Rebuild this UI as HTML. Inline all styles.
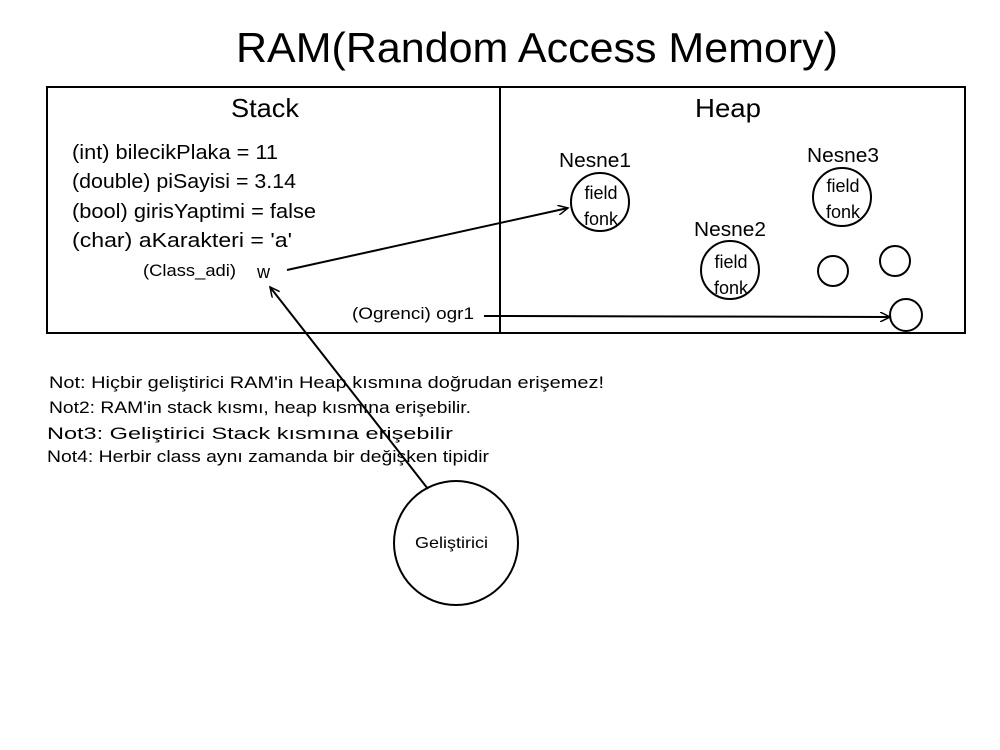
<!DOCTYPE html>
<html><head><meta charset="utf-8"><style>
html,body{margin:0;padding:0;background:#fff;width:1000px;height:750px;overflow:hidden}
svg text{font-family:"Liberation Sans","DejaVu Sans",sans-serif;fill:#000}
</style></head><body>
<svg width="1000" height="750" viewBox="0 0 1000 750" xmlns="http://www.w3.org/2000/svg">
<defs><marker id="a" markerWidth="12" markerHeight="10" refX="10" refY="5" orient="auto" markerUnits="userSpaceOnUse"><path d="M0,0 L10,5 L0,10" fill="none" stroke="#000" stroke-width="1.5"/></marker></defs>
<text x="236" y="62" font-size="42" textLength="602" lengthAdjust="spacingAndGlyphs">RAM(Random Access Memory)</text>
<rect x="47" y="87" width="918" height="246" fill="none" stroke="#000" stroke-width="2"/>
<line x1="500" y1="87" x2="500" y2="333" stroke="#000" stroke-width="2"/>
<text x="231" y="117" font-size="26" textLength="68" lengthAdjust="spacingAndGlyphs">Stack</text>
<text x="695" y="117" font-size="26" textLength="66" lengthAdjust="spacingAndGlyphs">Heap</text>
<g font-size="20">
<text x="72" y="159" textLength="206" lengthAdjust="spacingAndGlyphs">(int) bilecikPlaka = 11</text>
<text x="72" y="188" textLength="224" lengthAdjust="spacingAndGlyphs">(double) piSayisi = 3.14</text>
<text x="72" y="218" textLength="244" lengthAdjust="spacingAndGlyphs">(bool) girisYaptimi = false</text>
<text x="72" y="247" textLength="220" lengthAdjust="spacingAndGlyphs">(char) aKarakteri = 'a'</text>
</g>
<text x="143" y="276" font-size="17" textLength="93" lengthAdjust="spacingAndGlyphs">(Class_adi)</text>
<text x="257" y="278" font-size="18">w</text>
<text x="352" y="319" font-size="17" textLength="122" lengthAdjust="spacingAndGlyphs">(Ogrenci) ogr1</text>
<g font-size="20">
<text x="559" y="167" textLength="72" lengthAdjust="spacingAndGlyphs">Nesne1</text>
<text x="694" y="236" textLength="72" lengthAdjust="spacingAndGlyphs">Nesne2</text>
<text x="807" y="162" textLength="72" lengthAdjust="spacingAndGlyphs">Nesne3</text>
</g>
<g fill="none" stroke="#000" stroke-width="2">
<circle cx="600" cy="202" r="29"/>
<circle cx="730" cy="270" r="29"/>
<circle cx="842" cy="197" r="29"/>
<circle cx="833" cy="271" r="15"/>
<circle cx="895" cy="261" r="15"/>
<circle cx="906" cy="315" r="16"/>
<circle cx="456" cy="543" r="62"/>
</g>
<g font-size="18" text-anchor="middle">
<text x="601" y="199">field</text><text x="601" y="225">fonk</text>
<text x="731" y="268">field</text><text x="731" y="294">fonk</text>
<text x="843" y="192">field</text><text x="843" y="218">fonk</text>
</g>
<text x="415" y="548" font-size="16" textLength="73" lengthAdjust="spacingAndGlyphs">Geliştirici</text>
<g stroke="#000" stroke-width="2" fill="none">
<line x1="287" y1="270" x2="568" y2="208" marker-end="url(#a)"/>
<line x1="484" y1="316" x2="890" y2="317" marker-end="url(#a)"/>
<line x1="428" y1="489" x2="270" y2="287" marker-end="url(#a)"/>
</g>
<g font-size="17">
<text x="49" y="388" textLength="555" lengthAdjust="spacingAndGlyphs">Not: Hiçbir geliştirici RAM'in Heap kısmına doğrudan erişemez!</text>
<text x="49" y="413" textLength="422" lengthAdjust="spacingAndGlyphs">Not2: RAM'in stack kısmı, heap kısmına erişebilir.</text>
<text x="47" y="439" textLength="406" lengthAdjust="spacingAndGlyphs">Not3: Geliştirici Stack kısmına erişebilir</text>
<text x="47" y="462" textLength="442" lengthAdjust="spacingAndGlyphs">Not4: Herbir class aynı zamanda bir değişken tipidir</text>
</g>
</svg>
</body></html>
